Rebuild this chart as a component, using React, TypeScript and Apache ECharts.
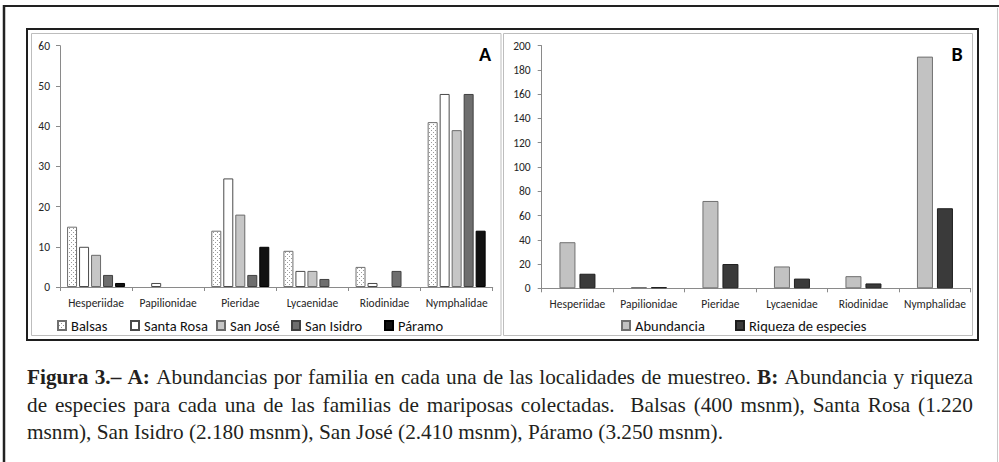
import React, { useEffect, useRef } from "react";
import * as echarts from "echarts";

// ---------- data ----------
const families = ["Hesperiidae", "Papilionidae", "Pieridae", "Lycaenidae", "Riodinidae", "Nymphalidae"];
const localities = ["Balsas", "Santa Rosa", "San José", "San Isidro", "Páramo"];
const balsas = [15, 0, 14, 9, 5, 41];
const santaRosa = [10, 1, 27, 4, 1, 48];
const sanJose = [8, 0, 18, 4, 0, 39];
const sanIsidro = [3, 0, 3, 2, 4, 48];
const paramo = [1, 0, 10, 0, 0, 14];
const seriesBNames = ["Abundancia", "Riqueza de especies"];
const abundancia = [38, 1, 72, 18, 10, 191];
const riqueza = [12, 1, 20, 8, 4, 66];
const axisA = { min: 0, max: 60, interval: 10 };
const axisB = { min: 0, max: 200, interval: 20 };

const captionLines: { t: string; b: boolean }[][] = [
  [
    { t: "Figura 3.– A:", b: true },
    { t: " Abundancias por familia en cada una de las localidades de muestreo. ", b: false },
    { t: "B:", b: true },
    { t: " Abundancia y riqueza", b: false },
  ],
  [{ t: "de especies para cada una de las familias de mariposas colectadas.  Balsas (400 msnm), Santa Rosa (1.220", b: false }],
  [{ t: "msnm), San Isidro (2.180 msnm), San José (2.410 msnm), Páramo (3.250 msnm).", b: false }],
];

// ---------- styles ----------
const CHART_FONT = "Carlito";
const seriesAStyles = [
  { fill: "pattern", border: "#6f6f6f" },
  { fill: "#ffffff", border: "#4a4a4a" },
  { fill: "#c6c6c6", border: "#6a6a6a" },
  { fill: "#6e6e6e", border: "#404040" },
  { fill: "#111111", border: "#000000" },
];
const seriesBStyles = [
  { fill: "#c2c2c2", border: "#707070" },
  { fill: "#3a3a3a", border: "#1e1e1e" },
];
const legendALeft = [57, 130, 216, 291, 384];
const legendBLeft = [621, 735];

function makeDotPattern() {
  const c = document.createElement("canvas");
  c.width = 4;
  c.height = 4;
  const ctx = c.getContext("2d")!;
  ctx.fillStyle = "#ffffff";
  ctx.fillRect(0, 0, 4, 4);
  ctx.fillStyle = "#9a9a9a";
  ctx.fillRect(1, 0, 1, 1);
  ctx.fillRect(3, 2, 1, 1);
  return { image: c, repeat: "repeat", imageWidth: 4, imageHeight: 4 } as any;
}

function buildCaption(): any[] {
  const fs = 21;
  const family = "Liberation Serif";
  const c = document.createElement("canvas");
  const ctx = c.getContext("2d")!;
  const measure = (t: string, b: boolean) => {
    ctx.font = `${b ? "bold " : ""}${fs}px "${family}"`;
    return ctx.measureText(t).width;
  };
  const spaceW = measure(" ", false);
  const lines = captionLines.map((segs) => {
    const words: { t: string; b: boolean; sp: number; w: number }[] = [];
    let pendingSp = 0;
    segs.forEach((s) => {
      s.t.split(/(\s+)/).forEach((part) => {
        if (part === "") return;
        if (/^\s+$/.test(part)) {
          pendingSp += part.length;
        } else {
          words.push({ t: part, b: s.b, sp: words.length ? pendingSp : 0, w: measure(part, s.b) });
          pendingSp = 0;
        }
      });
    });
    return words;
  });
  const natural = (ws: typeof lines[0]) => ws.reduce((a, w) => a + w.w + w.sp * spaceW, 0);
  const x0 = 27;
  const fullW = 946;
  const lastW = 696;
  const sx = lastW / natural(lines[2]);
  const ys = [377, 405, 432];
  const els: any[] = [];
  lines.forEach((ws, li) => {
    const justify = li < 2;
    const totalSp = ws.reduce((a, w) => a + w.sp, 0);
    const sumW = ws.reduce((a, w) => a + w.w, 0);
    const gap = justify ? (fullW / sx - sumW) / totalSp : spaceW;
    let cur = 0;
    ws.forEach((w) => {
      cur += w.sp * gap;
      els.push({
        type: "text",
        x: x0 + cur * sx,
        y: ys[li],
        scaleX: sx,
        style: {
          text: w.t,
          fontSize: fs,
          fontFamily: family,
          fontWeight: w.b ? "bold" : "normal",
          fill: "#231f20",
          align: "left",
          verticalAlign: "middle",
        },
      });
      cur += w.w;
    });
  });
  return els;
}

export default function App() {
  const ref = useRef<HTMLDivElement>(null);
  useEffect(() => {
    document.body.style.margin = "0";
    const chart = echarts.init(ref.current!, null, { renderer: "svg" });
    const pattern = makeDotPattern();
    const tickFont = { fontFamily: CHART_FONT, fontSize: 11.5, color: "#262626" };
    const axisLineStyle = { color: "#8a8a8a", width: 1 };
    const dataA = [balsas, santaRosa, sanJose, sanIsidro, paramo];
    const dataB = [abundancia, riqueza];
    const nz = (arr: number[]) => arr.map((v) => (v === 0 ? null : v));

    const seriesA = localities.map((name, i) => ({
      name,
      type: "bar",
      xAxisIndex: 0,
      yAxisIndex: 0,
      barWidth: 10,
      barGap: "20%",
      data: nz(dataA[i]),
      itemStyle: {
        color: seriesAStyles[i].fill === "pattern" ? pattern : seriesAStyles[i].fill,
        borderColor: seriesAStyles[i].border,
        borderWidth: 1,
      },
    }));
    const seriesB = seriesBNames.map((name, i) => ({
      name,
      type: "bar",
      xAxisIndex: 1,
      yAxisIndex: 1,
      barWidth: 16,
      barGap: "25%",
      data: nz(dataB[i]),
      itemStyle: {
        color: seriesBStyles[i].fill,
        borderColor: seriesBStyles[i].border,
        borderWidth: 1,
      },
    }));

    const legendText = { fontFamily: CHART_FONT, fontSize: 14.5, color: "#111" };
    const legendBase = {
      top: 318,
      padding: 0,
      itemWidth: 8,
      itemHeight: 9,
      itemGap: 0,
      icon: "rect",
      textStyle: legendText,
      selectedMode: false,
    };
    const legends = [
      ...localities.map((n, i) => ({ ...legendBase, data: [n], left: legendALeft[i] })),
      ...seriesBNames.map((n, i) => ({ ...legendBase, data: [n], left: legendBLeft[i] })),
    ];

    const catAxis = (gi: number) => ({
      type: "category",
      gridIndex: gi,
      data: families,
      boundaryGap: true,
      axisLine: { show: true, lineStyle: axisLineStyle },
      axisTick: { show: true, length: 4, alignWithLabel: false, lineStyle: axisLineStyle },
      axisLabel: { ...tickFont, margin: 10, interval: 0 },
      splitLine: { show: false },
    });
    const valAxis = (gi: number, cfg: { min: number; max: number; interval: number }, margin: number) => ({
      type: "value",
      gridIndex: gi,
      min: cfg.min,
      max: cfg.max,
      interval: cfg.interval,
      axisLine: { show: true, lineStyle: axisLineStyle },
      axisTick: { show: true, length: 4, lineStyle: axisLineStyle },
      axisLabel: { ...tickFont, margin },
      splitLine: { show: false },
    });

    const frame = [
      { type: "line", shape: { x1: 3, y1: 6, x2: 999, y2: 6 }, style: { stroke: "#222", lineWidth: 2 } },
      { type: "line", shape: { x1: 4, y1: 5, x2: 4, y2: 462 }, style: { stroke: "#222", lineWidth: 2.5 } },
      { type: "line", shape: { x1: 997.5, y1: 8, x2: 997.5, y2: 462 }, style: { stroke: "#c8c8c8", lineWidth: 1 } },
      { type: "rect", shape: { x: 27, y: 29, width: 951, height: 311 }, style: { fill: "none", stroke: "#1e1e1e", lineWidth: 2 } },
      { type: "rect", shape: { x: 31.5, y: 33.5, width: 469.5, height: 302 }, style: { fill: "none", stroke: "#bdbdbd", lineWidth: 1 } },
      { type: "rect", shape: { x: 503.5, y: 33.5, width: 469, height: 302 }, style: { fill: "none", stroke: "#bdbdbd", lineWidth: 1 } },
      { type: "text", x: 485, y: 53.5, style: { text: "A", fontSize: 20, fontWeight: "bold", fontFamily: CHART_FONT, fill: "#000", align: "center", verticalAlign: "middle" } },
      { type: "text", x: 957, y: 53.5, style: { text: "B", fontSize: 20, fontWeight: "bold", fontFamily: CHART_FONT, fill: "#000", align: "center", verticalAlign: "middle" } },
    ];

    chart.setOption({
      animation: false,
      backgroundColor: "#ffffff",
      grid: [
        { left: 60, right: 999 - 492.7, top: 45.7, bottom: 462 - 287, containLabel: false },
        { left: 541.7, right: 999 - 970.7, top: 45.7, bottom: 462 - 288.3, containLabel: false },
      ],
      xAxis: [catAxis(0), catAxis(1)],
      yAxis: [valAxis(0, axisA, 10), valAxis(1, axisB, 11)],
      legend: legends,
      series: [...seriesA, ...seriesB],
      graphic: [...frame, ...buildCaption()],
    });
    return () => chart.dispose();
  }, []);
  return (
    <div
      ref={ref}
      style={{ position: "fixed", left: 0, top: 0, width: 999, height: 462, background: "#fff" }}
    />
  );
}
